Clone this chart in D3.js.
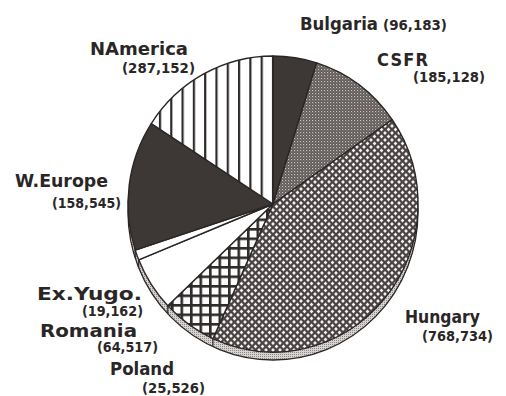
<!DOCTYPE html>
<html>
<head>
<meta charset="utf-8">
<script src="https://cdn.jsdelivr.net/npm/d3@7"></script>
<style>
  body { margin: 0; background: #fff; }
  text { font-family: "DejaVu Sans Condensed", "DejaVu Sans", sans-serif; font-weight: bold; fill: #2b2626; }
</style>
</head>
<body>
<div id="chart"></div>
<script>
(function() {
  // Data: regions, the printed figures, and the angular share each slice
  // actually takes in the drawing (degrees)
  var regions = ["Bulgaria", "CSFR", "Hungary", "Poland", "Romania", "Ex.Yugo.", "W.Europe", "NAmerica"];
  var visitors = [96183, 185128, 768734, 25526, 64517, 19162, 158545, 287152];
  var sliceShare = [17.5, 37.7, 149, 22, 21.3, 4, 51, 57];

  var width = 506,
      height = 396,
      cx = 273, cy = 204,   // pie centre
      rx = 145, ry = 148,   // top face radii
      depth = 8;            // thickness of the rim

  // fill for every slice, by region
  var fills = {
    "Bulgaria": "#3d3735",
    "CSFR": "url(#dots)",
    "Hungary": "url(#diamonds)",
    "Poland": "url(#check)",
    "Romania": "#ffffff",
    "Ex.Yugo.": "#ffffff",
    "W.Europe": "#3d3735",
    "NAmerica": "url(#stripes)"
  };

  // where each label sits: [nameX, nameY, nameW, valueX, valueY, valueW]
  var labelPos = {
    "Bulgaria": [300, 30, 78, 383, 30, 64],
    "CSFR": [377, 66, 51, 413, 82, 72],
    "Hungary": [405, 323, 75, 422, 341, 71],
    "Poland": [110, 375, 64, 142, 393, 63],
    "Romania": [40, 337, 97, 97, 352, 61],
    "Ex.Yugo.": [37, 300, 105, 82, 316, 61],
    "W.Europe": [15, 187, 93, 52, 208, 69],
    "NAmerica": [90, 55, 98, 122, 73, 73]
  };

  var ink = "#2b2626";
  var fmt = d3.format(",");

  var svg = d3.select("#chart")
    .append("svg")
    .attr("width", width)
    .attr("height", height);

  // ---- patterns
  var defs = svg.append("defs");

  var dots = defs.append("pattern").attr("id", "dots")
    .attr("patternUnits", "userSpaceOnUse").attr("width", 3).attr("height", 3);
  dots.append("rect").attr("width", 3).attr("height", 3).attr("fill", "#5e5856");
  dots.append("rect").attr("x", 0).attr("y", 0).attr("width", 1.2).attr("height", 1.2).attr("fill", "#c9c4c2");
  dots.append("rect").attr("x", 1.5).attr("y", 1.5).attr("width", 1).attr("height", 1).attr("fill", "#a29c9a");

  var dia = defs.append("pattern").attr("id", "diamonds")
    .attr("patternUnits", "userSpaceOnUse").attr("width", 7).attr("height", 7);
  dia.append("rect").attr("width", 7).attr("height", 7).attr("fill", "#4a4444");
  dia.append("path")
    .attr("d", "M3.5,1.6 L5.4,3.5 L3.5,5.4 L1.6,3.5Z M0,-1.9 L1.9,0 L0,1.9 L-1.9,0Z M7,-1.9 L8.9,0 L7,1.9 L5.1,0Z M0,5.1 L1.9,7 L0,8.9 L-1.9,7Z M7,5.1 L8.9,7 L7,8.9 L5.1,7Z")
    .attr("fill", "#f2f0ef");

  var check = defs.append("pattern").attr("id", "check")
    .attr("patternUnits", "userSpaceOnUse").attr("width", 9.5).attr("height", 9.5);
  check.append("rect").attr("width", 9.5).attr("height", 9.5).attr("fill", "#2f2a2a");
  check.append("rect").attr("x", 2.6).attr("y", 2.6).attr("width", 6.9).attr("height", 6.9).attr("fill", "#fbfbfb");

  var stripes = defs.append("pattern").attr("id", "stripes")
    .attr("patternUnits", "userSpaceOnUse").attr("x", cx - 1.1)
    .attr("width", 11.3).attr("height", 10);
  stripes.append("rect").attr("width", 11.3).attr("height", 10).attr("fill", "#ffffff");
  stripes.append("rect").attr("width", 2.2).attr("height", 10).attr("fill", "#2f2a2a");

  var rimPat = defs.append("pattern").attr("id", "rim")
    .attr("patternUnits", "userSpaceOnUse").attr("width", 2).attr("height", 2);
  rimPat.append("rect").attr("width", 2).attr("height", 2).attr("fill", "#d8d4d2");
  rimPat.append("rect").attr("width", 1).attr("height", 1).attr("fill", "#8c8684");

  // ---- pie angles from the data
  var pie = d3.pie()
    .sort(null)
    .value(function(d, i) { return sliceShare[i]; });
  var arcs = pie(regions);

  // point on the top ellipse for a pie angle (0 = 12 o'clock, clockwise)
  var pt = function(a, dy) {
    return [cx + rx * Math.sin(a), cy - ry * Math.cos(a) + (dy || 0)];
  };

  var slicePath = function(d) {
    var p0 = pt(d.startAngle), p1 = pt(d.endAngle);
    var large = (d.endAngle - d.startAngle) > Math.PI ? 1 : 0;
    return "M" + cx + "," + cy + "L" + p0[0] + "," + p0[1] +
      "A" + rx + "," + ry + " 0 " + large + " 1 " + p1[0] + "," + p1[1] + "Z";
  };

  // rim: lower ellipse sitting under the top face
  svg.append("ellipse")
    .attr("cx", cx).attr("cy", cy + depth)
    .attr("rx", rx).attr("ry", ry)
    .attr("fill", "url(#rim)")
    .attr("stroke", ink).attr("stroke-width", 1.3);

  // rim edges where slice borders fall on the visible front
  svg.selectAll("line.rimEdge")
    .data(arcs.filter(function(d) {
      return d.startAngle > Math.PI / 2 && d.startAngle < 3 * Math.PI / 2;
    }))
    .enter().append("line")
    .attr("class", "rimEdge")
    .attr("x1", function(d) { return pt(d.startAngle)[0]; })
    .attr("y1", function(d) { return pt(d.startAngle)[1]; })
    .attr("x2", function(d) { return pt(d.startAngle, depth)[0]; })
    .attr("y2", function(d) { return pt(d.startAngle, depth)[1]; })
    .attr("stroke", ink).attr("stroke-width", 1.2);

  // top face slices
  svg.append("g").attr("class", "slices")
    .selectAll("path")
    .data(arcs)
    .enter().append("path")
    .attr("d", slicePath)
    .attr("fill", function(d) { return fills[d.data]; })
    .attr("stroke", ink)
    .attr("stroke-width", 1.4)
    .attr("stroke-linejoin", "round");

  // labels
  var labels = svg.append("g").attr("class", "labels");
  regions.forEach(function(name, i) {
    var p = labelPos[name];
    labels.append("text")
      .attr("x", p[0]).attr("y", p[1])
      .attr("font-size", 18)
      .attr("textLength", p[2])
      .attr("lengthAdjust", name === "CSFR" ? "spacing" : "spacingAndGlyphs")
      .text(name);
    labels.append("text")
      .attr("x", p[3]).attr("y", p[4])
      .attr("font-size", 14)
      .attr("textLength", p[5])
      .attr("lengthAdjust", "spacingAndGlyphs")
      .text("(" + fmt(visitors[i]) + ")");
  });
})();
</script>
</body>
</html>
